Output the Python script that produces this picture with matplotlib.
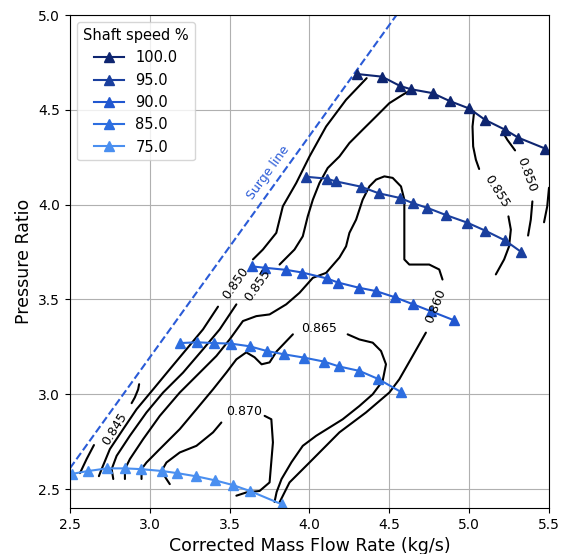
import numpy as np
import matplotlib
matplotlib.use("Agg")
import matplotlib.pyplot as plt

# speed lines: corrected mass flow (kg/s) and pressure ratio
speeds = ["100.0", "95.0", "90.0", "85.0", "75.0"]
speed_colors = ["#0e2570", "#1a3f9e", "#2157d0", "#2d6ee0", "#4a8ff0"]

flow_100 = [4.296, 4.454, 4.567, 4.633, 4.771, 4.879, 5.0, 5.1, 5.225, 5.308, 5.475]
pr_100 = [4.689, 4.675, 4.626, 4.609, 4.588, 4.546, 4.507, 4.447, 4.395, 4.353, 4.296]
flow_95 = [3.979, 4.108, 4.163, 4.321, 4.433, 4.567, 4.65, 4.738, 4.858, 4.988, 5.1, 5.225, 5.325]
pr_95 = [4.147, 4.137, 4.123, 4.095, 4.06, 4.035, 4.007, 3.983, 3.944, 3.905, 3.863, 3.811, 3.751]
flow_90 = [3.642, 3.721, 3.854, 3.954, 4.108, 4.179, 4.308, 4.417, 4.533, 4.65, 4.76, 4.908]
pr_90 = [3.674, 3.667, 3.656, 3.642, 3.611, 3.589, 3.562, 3.544, 3.512, 3.474, 3.438, 3.389]
flow_85 = [3.192, 3.296, 3.4, 3.508, 3.625, 3.733, 3.838, 3.967, 4.092, 4.183, 4.313, 4.429, 4.575]
pr_85 = [3.27, 3.274, 3.27, 3.267, 3.253, 3.228, 3.211, 3.193, 3.172, 3.147, 3.123, 3.081, 3.011]
flow_75 = [2.5125, 2.6125, 2.733, 2.846, 2.946, 3.079, 3.171, 3.292, 3.408, 3.521, 3.629, 3.825]
pr_75 = [2.58, 2.595, 2.609, 2.609, 2.605, 2.595, 2.584, 2.567, 2.546, 2.521, 2.489, 2.42]

speed_flows = [flow_100, flow_95, flow_90, flow_85, flow_75]
speed_prs = [pr_100, pr_95, pr_90, pr_85, pr_75]

# surge line end points
surge_flow = [2.5, 4.545]
surge_pr = [2.61, 5.0]

# efficiency contour pieces, (flow, pr) pairs
eff_845 = [
    [(2.933, 3.053), (2.927, 3.026), (2.906, 2.983), (2.886, 2.953)],
    [(2.65, 2.732), (2.604, 2.658), (2.5625, 2.584)],
    [(5.5, 4.089), (5.489, 3.991), (5.469, 3.907)],
]
eff_850 = [
    [(4.358, 4.667), (4.229, 4.553), (4.104, 4.412), (4.0, 4.254), (3.917, 4.114),
     (3.833, 3.991), (3.792, 3.851), (3.708, 3.763), (3.646, 3.711)],
    [(3.427, 3.462), (3.333, 3.342), (3.229, 3.237), (3.125, 3.132), (3.021, 3.026),
     (2.917, 2.921), (2.833, 2.816), (2.75, 2.711), (2.698, 2.605), (2.681, 2.568)],
    [(5.208, 4.386), (5.239, 4.342), (5.2875, 4.286)],
    [(5.396, 4.017), (5.386, 3.921), (5.369, 3.837)],
]
eff_855 = [
    [(4.636, 4.605), (4.583, 4.579), (4.5, 4.535), (4.417, 4.465), (4.333, 4.395),
     (4.25, 4.325), (4.1875, 4.254), (4.114, 4.193), (4.0625, 4.114), (4.021, 4.026),
     (3.989, 3.938), (3.958, 3.833), (3.906, 3.763), (3.8125, 3.684)],
    [(3.542, 3.474), (3.4375, 3.342), (3.333, 3.237), (3.208, 3.114), (3.083, 3.009),
     (2.979, 2.904), (2.875, 2.781), (2.792, 2.675), (2.761, 2.605), (2.771, 2.553)],
    [(5.031, 4.491), (5.021, 4.412), (5.025, 4.307), (5.042, 4.237), (5.0625, 4.188)],
    [(5.246, 3.938), (5.261, 3.868), (5.25, 3.78), (5.219, 3.711), (5.167, 3.632)],
]
eff_860 = [
    [(2.844, 2.553), (2.844, 2.605), (2.875, 2.658), (2.958, 2.763), (3.0625, 2.886),
     (3.1875, 3.009), (3.3125, 3.114), (3.417, 3.202), (3.5, 3.289), (3.583, 3.386),
     (3.667, 3.412), (3.75, 3.421), (3.854, 3.474), (3.9375, 3.535), (4.021, 3.614),
     (4.104, 3.64), (4.1875, 3.721), (4.229, 3.78), (4.25, 3.851), (4.292, 3.921),
     (4.333, 4.026), (4.375, 4.096), (4.417, 4.132), (4.469, 4.149), (4.521, 4.141),
     (4.573, 4.096), (4.594, 4.026), (4.594, 3.868), (4.594, 3.711), (4.625, 3.684),
     (4.75, 3.684), (4.8125, 3.658), (4.833, 3.605)],
    [(4.729, 3.325), (4.646, 3.202), (4.5625, 3.079), (4.5, 3.009), (4.354, 2.904),
     (4.1875, 2.799), (4.0, 2.64), (3.875, 2.535), (3.8125, 2.43)],
]
eff_865 = [
    [(2.948, 2.553), (2.948, 2.605), (2.979, 2.64), (3.0625, 2.711), (3.1875, 2.816),
     (3.292, 2.921), (3.396, 3.026), (3.479, 3.114), (3.542, 3.184), (3.604, 3.221),
     (3.656, 3.195), (3.7, 3.158), (3.75, 3.168), (3.794, 3.226), (3.896, 3.316)],
    [(4.239, 3.316), (4.3125, 3.289), (4.396, 3.272), (4.448, 3.228), (4.479, 3.158),
     (4.458, 3.07), (4.396, 3.0), (4.3125, 2.938), (4.208, 2.868), (4.042, 2.781),
     (3.958, 2.728), (3.8875, 2.642), (3.825, 2.553), (3.794, 2.484), (3.781, 2.432)],
]
eff_870 = [
    [(3.448, 2.851), (3.396, 2.799), (3.292, 2.728), (3.1875, 2.693), (3.104, 2.64),
     (3.073, 2.595), (3.104, 2.553), (3.125, 2.526)],
    [(3.719, 2.886), (3.761, 2.868), (3.771, 2.746), (3.75, 2.535), (3.6875, 2.49),
     (3.604, 2.482), (3.542, 2.465)],
]
contours = [eff_845, eff_850, eff_855, eff_860, eff_865, eff_870]

# inline labels: text, flow, pr, rotation
contour_labels = [
    ("0.845", 2.781, 2.816, 58),
    ("0.850", 3.538, 3.584, 55),
    ("0.855", 3.675, 3.574, 55),
    ("0.850", 5.3625, 4.158, -70),
    ("0.855", 5.169, 4.068, -58),
    ("0.860", 4.79, 3.466, 68),
    ("0.865", 4.0625, 3.347, 0),
    ("0.870", 3.59, 2.911, 0),
]


def main():
    fig = plt.figure(figsize=(5.64, 5.54), dpi=100)
    ax = fig.add_axes([0.1241, 0.083, 0.8493, 0.8899])

    ax.grid(True, color="#b0b0b0", linewidth=0.8)
    ax.set_axisbelow(True)

    # surge line
    ax.plot(surge_flow, surge_pr, "--", color="#2a5bd7", linewidth=1.5)
    ax.text(3.744, 4.171, "Surge line", color="#2a5bd7", fontsize=9,
            rotation=54, ha="center", va="center")

    # efficiency contours
    for level in contours:
        for piece in level:
            xs = [p[0] for p in piece]
            ys = [p[1] for p in piece]
            ax.plot(xs, ys, color="black", linewidth=1.5,
                    solid_joinstyle="round", solid_capstyle="round")
    for txt, x, y, rot in contour_labels:
        ax.text(x, y, txt, fontsize=9, rotation=rot, ha="center", va="center")

    # speed lines
    for name, c, fl, pr in zip(speeds, speed_colors, speed_flows, speed_prs):
        ax.plot(fl, pr, "-^", color=c, linewidth=1.5, markersize=7, label=name)

    ax.set_xlim(2.5, 5.5)
    ax.set_ylim(2.4, 5.0)
    ax.set_xticks([2.5, 3.0, 3.5, 4.0, 4.5, 5.0, 5.5])
    ax.set_yticks([2.5, 3.0, 3.5, 4.0, 4.5, 5.0])
    ax.tick_params(labelsize=10)
    ax.set_xlabel("Corrected Mass Flow Rate (kg/s)", fontsize=12.5)
    ax.set_ylabel("Pressure Ratio", fontsize=12.5)
    ax.legend(title="Shaft speed %", loc="upper left", fontsize=10.5,
              title_fontsize=10.5)

    fig.savefig("out.png", dpi=100)


if __name__ == "__main__":
    main()
